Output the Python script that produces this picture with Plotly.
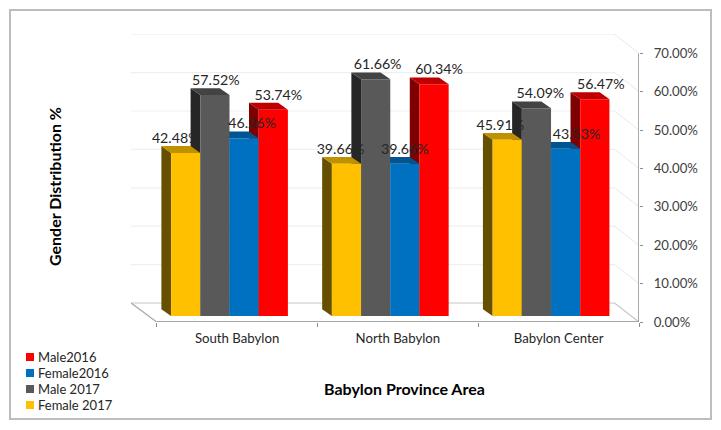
import plotly.graph_objects as go

categories = ["South Babylon", "North Babylon", "Babylon Center"]
female_2017 = [42.48, 39.66, 45.91]
male_2017 = [57.52, 61.66, 54.09]
female_2016 = [46.26, 39.66, 43.53]
male_2016 = [53.74, 60.34, 56.47]
y_ticks = [0, 10, 20, 30, 40, 50, 60, 70]

# pixel geometry of the reference's projected 3D frame
FONT = "Lato"
L, R, T, B = 131, 639, 34, 322
CAT_PX = (639 - 156.7) / 3
PCT_PX = 3.84
xmin = (L - 156.7) / CAT_PX
xmax = 3
ymax = (B - T) / PCT_PX
WALL_DX = 24.5 / CAT_PX
WALL_DY = 19 / PCT_PX
GAP = 14.4 / CAT_PX
BAR_W = 29.2 / CAT_PX
BAR_BASE = 6 / PCT_PX
DEPTH_X = 9.7 / CAT_PX
DEPTH_Y = 6.8 / PCT_PX

series = [
    ("Female 2017", female_2017, "#FFC000", "#BF9000", "#665000", [-10, -6, -7]),
    ("Male 2017", male_2017, "#595959", "#434343", "#262626", [1, 2, 4]),
    ("Female2016", female_2016, "#0070C0", "#00548F", "#003A66", [8, 0, 11]),
    ("Male2016", male_2016, "#FF0000", "#C00000", "#7F0000", [5, 5, 6]),
]

fig = go.Figure()
groups = list(range(len(categories)))


def line(xs, ys, color, width=1):
    fig.add_trace(go.Scatter(x=xs, y=ys, mode="lines", showlegend=False, hoverinfo="skip",
                             line=dict(color=color, width=width)))


# back wall and side wall gridlines
for v in y_ticks:
    color = "#C6C6C6" if v == 0 else "#EFEFEF"
    line([xmin, xmax - WALL_DX, xmax], [v + WALL_DY, v + WALL_DY, v], color, 1.2)
# floor edges and axes
line([xmin, 0], [WALL_DY, 0], "#A6A6A6", 1.2)
line([0, 3], [0, 0], "#A6A6A6", 2)
line([3, 3], [0, 70], "#8C8C8C", 1.5)

# left sides first, then tops, so a lower bar's top hides the part of its neighbour's side below it
side_traces, top_traces = [], []
for k, (name, vals, front, top_c, side_c, nudges) in enumerate(series):
    tx, ty, sx, sy = [], [], [], []
    for i, v in zip(groups, vals):
        x0 = i + GAP + k * BAR_W
        x1 = x0 + BAR_W
        t = BAR_BASE + v
        tx += [x0, x1, x1 - DEPTH_X, x0 - DEPTH_X, x0, None]
        ty += [t, t, t + DEPTH_Y, t + DEPTH_Y, t, None]
        sx += [x0, x0 - DEPTH_X, x0 - DEPTH_X, x0, x0, None]
        sy += [BAR_BASE, BAR_BASE + DEPTH_Y, t + DEPTH_Y, t, BAR_BASE, None]
    side_traces.append((sx, sy, side_c))
    top_traces.append((tx, ty, top_c))
for xs, ys, c in side_traces + top_traces:
    fig.add_trace(go.Scatter(x=xs, y=ys, mode="lines", fill="toself", fillcolor=c,
                             line=dict(width=0), showlegend=False, hoverinfo="skip"))

# front faces live on an overlaying subplot, so they sit above the sides
for k, (name, vals, front, top_c, side_c, nudges) in enumerate(series):
    fig.add_trace(go.Bar(x=groups, y=vals, base=BAR_BASE, width=BAR_W, offset=GAP + k * BAR_W,
                         name=name, marker=dict(color=front, line=dict(width=0)),
                         showlegend=False, xaxis="x2", yaxis="y2"))

# value labels
for k, (name, vals, front, top_c, side_c, nudges) in enumerate(series):
    fig.add_trace(go.Scatter(
        x=[i + GAP + (k + 0.5) * BAR_W + n / CAT_PX for i, n in zip(groups, nudges)],
        y=[BAR_BASE + v + 13.5 / PCT_PX for v in vals],
        text=[f"{v:.2f}%" for v in vals], mode="text", textposition="middle center",
        textfont=dict(family=FONT, size=14.2, color="#262626"),
        showlegend=False, hoverinfo="skip", xaxis="x2", yaxis="y2"))

shapes = [dict(type="rect", xref="paper", yref="paper",
               x0=(10 - L) / (R - L), x1=(711 - L) / (R - L),
               y0=(B - 419) / (B - T), y1=(B - 10) / (B - T),
               line=dict(color="#BDBDBD", width=2), fillcolor="rgba(0,0,0,0)", layer="below")]
annotations = [
    dict(text="<b>Gender Distribution %</b>", xref="paper", yref="paper",
         x=(54 - L) / (R - L), y=(B - 187) / (B - T), textangle=-90, showarrow=False,
         xanchor="center", yanchor="middle",
         font=dict(family=FONT, size=16, color="#000000")),
    dict(text="<b>Babylon Province Area</b>", xref="paper", yref="paper",
         x=(404 - L) / (R - L), y=(B - 388) / (B - T), showarrow=False,
         xanchor="center", yanchor="middle",
         font=dict(family=FONT, size=16, color="#000000")),
]
# legend block
for row, (name, vals, front, top_c, side_c, nudges) in enumerate(reversed(series)):
    cy = 357 + row * 16
    shapes.append(dict(type="rect", xref="paper", yref="paper",
                       x0=(26 - L) / (R - L), x1=(34 - L) / (R - L),
                       y0=(B - cy - 4) / (B - T), y1=(B - cy + 4) / (B - T),
                       fillcolor=front, line=dict(width=0)))
    annotations.append(dict(text=name, xref="paper", yref="paper", xanchor="left", yanchor="middle",
                            x=(37 - L) / (R - L), y=(B - cy) / (B - T), showarrow=False,
                            xshift=-1, font=dict(family=FONT, size=13, color="#262626")))

fig.update_layout(
    width=721, height=430, margin=dict(l=L, r=721 - R, t=T, b=430 - B),
    paper_bgcolor="white", plot_bgcolor="white", barmode="overlay", showlegend=False,
    shapes=shapes, annotations=annotations,
    xaxis=dict(range=[xmin, xmax], showgrid=False, zeroline=False, showline=False,
               tickmode="array", tickvals=[i + 0.5 for i in groups], ticktext=categories,
               ticks="", ticklabelstandoff=7, tickfont=dict(family=FONT, size=13.2, color="#262626"),
               minor=dict(tickmode="linear", tick0=0, dtick=1, ticks="outside", ticklen=4,
                          tickcolor="#8C8C8C", showgrid=False)),
    yaxis=dict(range=[0, ymax], side="right", showgrid=False, zeroline=False, showline=False,
               tickmode="array", tickvals=y_ticks, ticktext=[f"{v:.2f}%" for v in y_ticks],
               ticks="outside", ticklen=3, tickcolor="#8C8C8C", ticklabelstandoff=8,
               tickfont=dict(family=FONT, size=13.2, color="#404040")),
    xaxis2=dict(range=[xmin, xmax], overlaying="x", visible=False),
    yaxis2=dict(range=[0, ymax], overlaying="y", visible=False),
)
fig.write_html("out.html", post_script="document.body.style.margin='0';",
               config={"displayModeBar": False})
